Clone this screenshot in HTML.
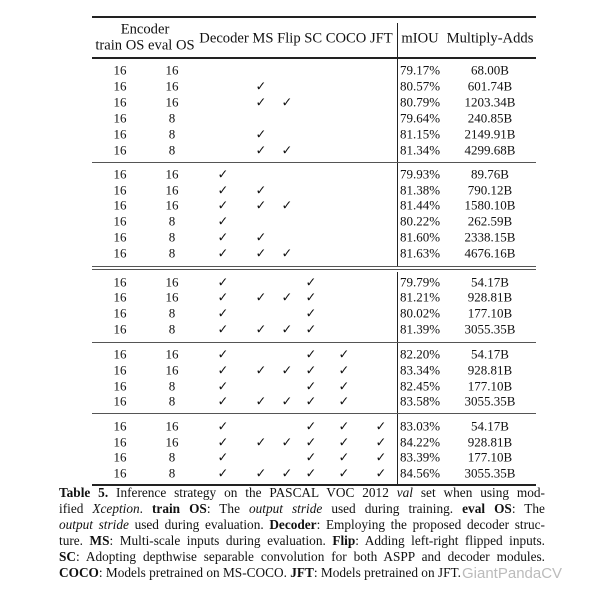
<!DOCTYPE html>
<html><head><meta charset="utf-8"><style>
body{margin:0;background:#fff;width:606px;height:595px;position:relative;overflow:hidden;font-family:"Liberation Serif",serif;color:#111;font-size:13px}
.t{position:absolute;white-space:nowrap;transform:translate(-50%,-50%);line-height:1}
.l{position:absolute;white-space:nowrap;transform:translateY(-50%);line-height:1}
.hd{font-size:14.6px}
.h{position:absolute;background:#222}
.v{position:absolute;background:#222;width:1px;left:397px}
.cap{position:absolute;left:59px;width:486px;font-size:13.3px;line-height:16px;text-align:justify;text-align-last:justify}
.cap b{font-weight:bold}
</style></head><body>
<div class="h" style="left:92px;top:16px;width:444px;height:2px"></div>
<div class="h" style="left:92px;top:57px;width:444px;height:2px"></div>
<div class="h" style="left:92px;top:162px;width:444px;height:1px;background:#555"></div>
<div class="h" style="left:92px;top:266px;width:444px;height:1px;background:#555"></div>
<div class="h" style="left:92px;top:269px;width:444px;height:1px;background:#555"></div>
<div class="h" style="left:92px;top:342px;width:444px;height:1px;background:#555"></div>
<div class="h" style="left:92px;top:413px;width:444px;height:1px;background:#555"></div>
<div class="h" style="left:92px;top:484px;width:444px;height:2px"></div>
<div class="v" style="top:23px;height:139px"></div>
<div class="v" style="top:163px;height:103px"></div>
<div class="v" style="top:272px;height:70px"></div>
<div class="v" style="top:343px;height:70px"></div>
<div class="v" style="top:414px;height:70px"></div>
<div class="t hd" style="left:145px;top:30px">Encoder</div>
<div class="t hd" style="left:145px;top:46px">train OS eval OS</div>
<div class="t hd" style="left:296px;top:39px">Decoder MS Flip SC COCO JFT</div>
<div class="t hd" style="left:420px;top:39px">mIOU</div>
<div class="t hd" style="left:490px;top:39px">Multiply-Adds</div>
<div id="rows"></div>
<div class="cap" style="top:485px"><b>Table 5.</b> Inference strategy on the PASCAL VOC 2012 <i>val</i> set when using mod-</div>
<div class="cap" style="top:501px">ified <i>Xception</i>. <b>train OS</b>: The <i>output stride</i> used during training. <b>eval OS</b>: The</div>
<div class="cap" style="top:517px"><i>output stride</i> used during evaluation. <b>Decoder</b>: Employing the proposed decoder struc-</div>
<div class="cap" style="top:533px">ture. <b>MS</b>: Multi-scale inputs during evaluation. <b>Flip</b>: Adding left-right flipped inputs.</div>
<div class="cap" style="top:549px"><b>SC</b>: Adopting depthwise separable convolution for both ASPP and decoder modules.</div>
<div class="cap" style="top:565px;text-align-last:left"><b>COCO</b>: Models pretrained on MS-COCO. <b>JFT</b>: Models pretrained on JFT.</div>
<div style="position:absolute;left:462px;top:565px;font-family:'Liberation Sans',sans-serif;font-size:15px;color:#bbb;background:rgba(255,255,255,0.6)">GiantPandaCV</div>
<script>
var C=[223,261,287,311,344,381];
var R=[
[70,16,16,"000000","79.17%","68.00B"],[86,16,16,"010000","80.57%","601.74B"],[102,16,16,"011000","80.79%","1203.34B"],
[118,16,8,"000000","79.64%","240.85B"],[134,16,8,"010000","81.15%","2149.91B"],[150,16,8,"011000","81.34%","4299.68B"],
[174,16,16,"100000","79.93%","89.76B"],[190,16,16,"110000","81.38%","790.12B"],[205,16,16,"111000","81.44%","1580.10B"],
[221,16,8,"100000","80.22%","262.59B"],[237,16,8,"110000","81.60%","2338.15B"],[253,16,8,"111000","81.63%","4676.16B"],
[282,16,16,"100100","79.79%","54.17B"],[297,16,16,"111100","81.21%","928.81B"],[313,16,8,"100100","80.02%","177.10B"],[329,16,8,"111100","81.39%","3055.35B"],
[354,16,16,"100110","82.20%","54.17B"],[370,16,16,"111110","83.34%","928.81B"],[386,16,8,"100110","82.45%","177.10B"],[401,16,8,"111110","83.58%","3055.35B"],
[426,16,16,"100111","83.03%","54.17B"],[442,16,16,"111111","84.22%","928.81B"],[457,16,8,"100111","83.39%","177.10B"],[473,16,8,"111111","84.56%","3055.35B"]];
var h="";
R.forEach(function(r){var y=r[0];
h+='<div class="t" style="left:120px;top:'+y+'px">'+r[1]+'</div>';
h+='<div class="t" style="left:172px;top:'+y+'px">'+r[2]+'</div>';
for(var i=0;i<6;i++)if(r[3][i]=="1")h+='<div class="t" style="left:'+C[i]+'px;top:'+y+'px">&#10003;</div>';
h+='<div class="l" style="left:400px;top:'+y+'px">'+r[4]+'</div>';
h+='<div class="t" style="left:490px;top:'+y+'px">'+r[5]+'</div>';});
document.getElementById("rows").innerHTML=h;
</script>
</body></html>
